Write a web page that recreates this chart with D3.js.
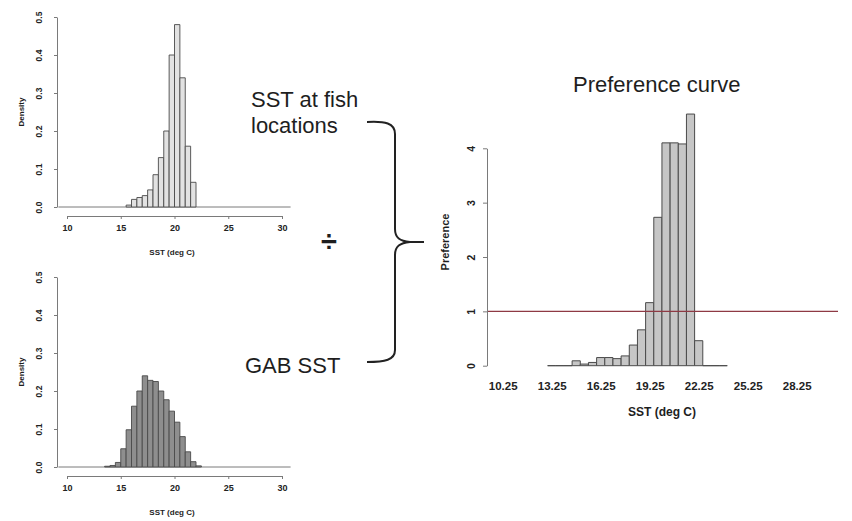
<!DOCTYPE html>
<html>
<head>
<meta charset="utf-8">
<script src="https://cdn.jsdelivr.net/npm/d3@7/dist/d3.min.js"></script>
<style>
  body { margin: 0; background: #fff; }
  text { font-family: "Liberation Sans", Arial, sans-serif; fill: #1e1e1e; }
</style>
</head>
<body>
<svg id="chart" width="852" height="521"></svg>
<script>
// ---- data ----
const binWidth = 0.5;

// SST at fish locations (density per 0.5 degC bin, bins given by lower edge)
const fishBins    = [15.5, 16, 16.5, 17, 17.5, 18, 18.5, 19, 19.5, 20, 20.5, 21, 21.5];
const fishDensity = [0.005, 0.02, 0.025, 0.03, 0.045, 0.085, 0.13, 0.2, 0.4, 0.48, 0.34, 0.16, 0.065];

// SST over the whole GAB
const gabBins    = [13.5, 14, 14.5, 15, 15.5, 16, 16.5, 17, 17.5, 18, 18.5, 19, 19.5, 20, 20.5, 21, 21.5, 22];
const gabDensity = [0.002, 0.004, 0.012, 0.048, 0.098, 0.16, 0.2, 0.24, 0.228, 0.225, 0.2, 0.177, 0.147, 0.118, 0.08, 0.04, 0.014, 0.003];

// Preference = fish density / GAB density
const prefBins   = [13, 13.5, 14, 14.5, 15, 15.5, 16, 16.5, 17, 17.5, 18, 18.5, 19, 19.5, 20, 20.5, 21, 21.5, 22, 22.5, 23, 23.5];
const preference = [0, 0, 0, 0.09, 0.03, 0.06, 0.15, 0.15, 0.13, 0.18, 0.38, 0.66, 1.16, 2.73, 4.1, 4.1, 4.08, 4.63, 0.46, 0, 0, 0];

// tick labels
const sstTicks     = [10, 15, 20, 25, 30];
const densityTicks = [0, 0.1, 0.2, 0.3, 0.4, 0.5];
const prefXLabels  = [10.25, 13.25, 16.25, 19.25, 22.25, 25.25, 28.25];
const prefYTicks   = [0, 1, 2, 3, 4];
const neutralLevel = 1;

const svg = d3.select("#chart");
const axisColor = "#7a7a7a";
const barStroke = "#4a4a4a";

function barPath(x, y, x0, v) {
  const p = d3.path();
  p.moveTo(x(x0), y(0));
  p.lineTo(x(x0), y(v));
  p.lineTo(x(x0 + binWidth), y(v));
  p.lineTo(x(x0 + binWidth), y(0));
  p.closePath();
  return p.toString();
}

function styleAxis(g) {
  g.selectAll("path.domain").attr("stroke", axisColor);
  g.selectAll(".tick line").attr("stroke", axisColor);
  g.selectAll(".tick text").style("fill", "#222").attr("font-weight", "bold");
}

// ---- density histogram panel ----
function histogram(top, bins, dens, fill) {
  const g = svg.append("g");
  const x = d3.scaleLinear().domain([10, 30]).range([67, 282]);
  const y = d3.scaleLinear().domain([0, 0.5]).range([top + 190, top]);

  // zero line across the plot region
  g.append("line")
    .attr("x1", x(9.2)).attr("x2", x(30.8))
    .attr("y1", y(0)).attr("y2", y(0))
    .attr("stroke", axisColor).attr("stroke-width", 1);

  g.selectAll("path.bar").data(bins).join("path")
    .attr("class", "bar")
    .attr("d", (b, i) => barPath(x, y, b, dens[i]))
    .attr("fill", fill).attr("stroke", barStroke).attr("stroke-width", 0.9);

  const ya = g.append("g").attr("transform", `translate(57,0)`)
    .call(d3.axisLeft(y).tickValues(densityTicks).tickFormat(d3.format(".1f")).tickSize(3).tickSizeOuter(0));
  ya.selectAll(".tick text")
    .attr("transform", "rotate(-90)").attr("x", 0).attr("y", -15).attr("dy", 0)
    .attr("text-anchor", "middle").attr("font-size", 8.5);
  styleAxis(ya);

  const xa = g.append("g").attr("transform", `translate(0,${top + 199})`)
    .call(d3.axisBottom(x).tickValues(sstTicks).tickSize(3).tickSizeOuter(0).tickPadding(6));
  xa.selectAll(".tick text").attr("font-size", 9);
  styleAxis(xa);

  g.append("text")
    .attr("transform", `translate(24,${y(0.25)}) rotate(-90)`)
    .attr("text-anchor", "middle").attr("font-size", 8).attr("font-weight", "bold")
    .text("Density");
  g.append("text")
    .attr("x", 172).attr("y", top + 238)
    .attr("text-anchor", "middle").attr("font-size", 8).attr("font-weight", "bold")
    .text("SST (deg C)");
}

histogram(17, fishBins, fishDensity, "#e2e2e2");
histogram(277, gabBins, gabDensity, "#8e8e8e");

// ---- preference curve ----
{
  const g = svg.append("g");
  const x = d3.scaleLinear().domain([10.25, 28.25]).range([502.7, 796.7]);
  const y = d3.scaleLinear().domain([0, 4]).range([365.7, 148.3]);

  g.selectAll("path.bar").data(prefBins).join("path")
    .attr("class", "bar")
    .attr("d", (b, i) => barPath(x, y, b, preference[i]))
    .attr("fill", "#c6c6c6").attr("stroke", barStroke).attr("stroke-width", 1);

  g.append("line")
    .attr("x1", 487).attr("x2", 838)
    .attr("y1", y(neutralLevel)).attr("y2", y(neutralLevel))
    .attr("stroke", "#8e3a44").attr("stroke-width", 1.4);

  const ya = g.append("g").attr("transform", "translate(487,0)")
    .call(d3.axisLeft(y).tickValues(prefYTicks).tickFormat(d3.format("d")).tickSize(4).tickSizeOuter(0));
  ya.selectAll(".tick text")
    .attr("transform", "rotate(-90)").attr("x", 0).attr("y", -12).attr("dy", 0)
    .attr("text-anchor", "middle").attr("font-size", 10.5);
  styleAxis(ya);

  const xa = g.append("g").attr("transform", "translate(0,366)")
    .call(d3.axisBottom(x).tickValues(prefXLabels).tickFormat(d3.format(".2f")).tickSize(0).tickPadding(16));
  xa.select("path.domain").remove();
  xa.selectAll(".tick text").attr("font-size", 11.5);
  styleAxis(xa);

  g.append("text")
    .attr("transform", "translate(449,242) rotate(-90)")
    .attr("text-anchor", "middle").attr("font-size", 11).attr("font-weight", "bold")
    .text("Preference");
  g.append("text")
    .attr("x", 662).attr("y", 416)
    .attr("text-anchor", "middle").attr("font-size", 12).attr("font-weight", "bold")
    .text("SST (deg C)");
  g.append("text")
    .attr("x", 573).attr("y", 92)
    .attr("font-size", 22)
    .text("Preference curve");
}

// ---- annotation: fish SST divided by GAB SST ----
svg.append("text").attr("x", 251).attr("y", 107).attr("font-size", 22).text("SST at fish");
svg.append("text").attr("x", 251).attr("y", 133).attr("font-size", 22).text("locations");
svg.append("text").attr("x", 245).attr("y", 373).attr("font-size", 22).text("GAB SST");
svg.append("text").attr("x", 329).attr("y", 251).attr("font-size", 29).attr("font-weight", "bold")
  .attr("text-anchor", "middle").text("÷");

svg.append("path")
  .attr("d", "M367,122 C385,121 395,123 395,134 L395,229 C395,238 400,241 410,242 L424,242 M410,242 C400,243 395,246 395,255 L395,350 C395,360 385,362 367,362")
  .attr("fill", "none").attr("stroke", "#222").attr("stroke-width", 2);
</script>
</body>
</html>
